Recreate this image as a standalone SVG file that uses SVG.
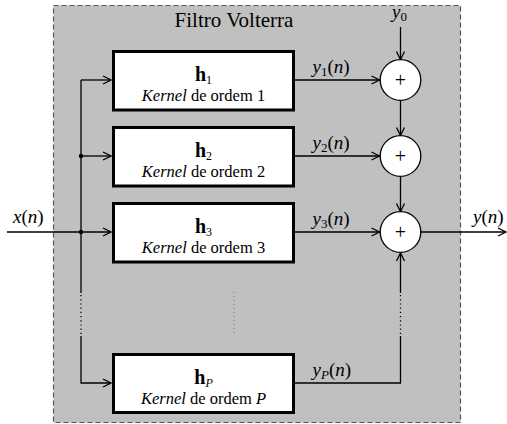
<svg xmlns="http://www.w3.org/2000/svg" width="507" height="424" viewBox="0 0 507 424" font-family="'Liberation Serif', 'DejaVu Serif', serif">
<style>
text{font-family:'Liberation Serif','DejaVu Serif',serif;fill:#000}
.box{fill:#fff;stroke:#000;stroke-width:3}
.sum{fill:#fff;stroke:#000;stroke-width:1.3}
.ln{fill:none;stroke:#000;stroke-width:1.3}
.dot{fill:none;stroke:#000;stroke-width:1.3;stroke-dasharray:1.2 3}
.k{font-size:16.5px;text-anchor:middle}
.h{font-size:20px;text-anchor:middle}
.m{font-size:19px}
.i{font-style:italic}
.sub{font-size:13px}
.hs{font-size:12px}
</style>
<defs>
<marker id="ar" viewBox="0 0 10 10" refX="9" refY="5" markerWidth="10" markerHeight="10" markerUnits="userSpaceOnUse" orient="auto">
<path d="M1,1 L9,5 L1,9" fill="none" stroke="#000" stroke-width="1.3"/>
</marker>
</defs>
<rect id="frame" x="53.5" y="5.5" width="407" height="417" fill="#c0c0c0" stroke="#555" stroke-width="1.2" stroke-dasharray="5 3"/>
<text x="234" y="27" font-size="21" text-anchor="middle">Filtro Volterra</text>

<g id="connectors">
<line class="ln" x1="7" y1="232" x2="111" y2="232" marker-end="url(#ar)"/>
<polyline class="ln" points="81,80 81,80 111,80" marker-end="url(#ar)"/>
<line class="ln" x1="81" y1="80" x2="81" y2="293"/>
<line class="dot" x1="81" y1="295" x2="81" y2="334"/>
<polyline class="ln" points="81,336 81,383 111,383" marker-end="url(#ar)"/>
<line class="ln" x1="81" y1="156" x2="111" y2="156" marker-end="url(#ar)"/>
<circle cx="81" cy="156" r="2.2"/>
<circle cx="81" cy="232" r="2.2"/>
<line class="ln" x1="295" y1="80" x2="379.5" y2="80" marker-end="url(#ar)"/>
<line class="ln" x1="295" y1="156" x2="379.5" y2="156" marker-end="url(#ar)"/>
<line class="ln" x1="295" y1="232" x2="379.5" y2="232" marker-end="url(#ar)"/>
<line class="ln" x1="400.5" y1="27" x2="400.5" y2="59.5" marker-end="url(#ar)"/>
<line class="ln" x1="400.5" y1="100.5" x2="400.5" y2="135.5" marker-end="url(#ar)"/>
<line class="ln" x1="400.5" y1="176.5" x2="400.5" y2="211.5" marker-end="url(#ar)"/>
<line class="ln" x1="421" y1="232" x2="506" y2="232" marker-end="url(#ar)"/>
<polyline class="ln" points="295,383 400.5,383 400.5,336"/>
<line class="dot" x1="400.5" y1="334" x2="400.5" y2="295"/>
<line class="ln" x1="400.5" y1="293" x2="400.5" y2="253" marker-end="url(#ar)"/>
<line x1="234" y1="292" x2="234" y2="334" stroke="#777" stroke-width="1" stroke-dasharray="1 3"/>
</g>

<g id="h1">
<rect class="box" x="113.5" y="51.5" width="180" height="58.5"/>
<text class="h" x="203.5" y="81"><tspan font-weight="bold">h</tspan><tspan class="hs" dy="3">1</tspan></text>
<text class="k" x="203.5" y="100.5"><tspan class="i">Kernel</tspan> de ordem 1</text>
</g>
<g id="h2">
<rect class="box" x="113.5" y="127.5" width="180" height="58.5"/>
<text class="h" x="203.5" y="157"><tspan font-weight="bold">h</tspan><tspan class="hs" dy="3">2</tspan></text>
<text class="k" x="203.5" y="176.5"><tspan class="i">Kernel</tspan> de ordem 2</text>
</g>
<g id="h3">
<rect class="box" x="113.5" y="203.5" width="180" height="58.5"/>
<text class="h" x="203.5" y="233"><tspan font-weight="bold">h</tspan><tspan class="hs" dy="3">3</tspan></text>
<text class="k" x="203.5" y="252.5"><tspan class="i">Kernel</tspan> de ordem 3</text>
</g>
<g id="hP">
<rect class="box" x="113.5" y="354.5" width="180" height="58"/>
<text class="h" x="203.5" y="384"><tspan font-weight="bold">h</tspan><tspan class="hs i" dy="3">P</tspan></text>
<text class="k" x="203.5" y="403.5"><tspan class="i">Kernel</tspan> de ordem <tspan class="i">P</tspan></text>
</g>

<g id="s1"><circle class="sum" cx="400.5" cy="80" r="20.3"/><text x="400.5" y="86.5" font-size="20" text-anchor="middle">+</text></g>
<g id="s2"><circle class="sum" cx="400.5" cy="156" r="20.3"/><text x="400.5" y="162.5" font-size="20" text-anchor="middle">+</text></g>
<g id="s3"><circle class="sum" cx="400.5" cy="232" r="20.3"/><text x="400.5" y="238.5" font-size="20" text-anchor="middle">+</text></g>

<g id="labels">
<text class="m" x="392" y="18"><tspan class="i">y</tspan><tspan class="sub" dy="3">0</tspan></text>
<text class="m" x="312.5" y="72.5"><tspan class="i">y</tspan><tspan class="sub" dy="3">1</tspan><tspan dy="-3">(</tspan><tspan class="i">n</tspan>)</text>
<text class="m" x="312.5" y="148.5"><tspan class="i">y</tspan><tspan class="sub" dy="3">2</tspan><tspan dy="-3">(</tspan><tspan class="i">n</tspan>)</text>
<text class="m" x="312.5" y="224.5"><tspan class="i">y</tspan><tspan class="sub" dy="3">3</tspan><tspan dy="-3">(</tspan><tspan class="i">n</tspan>)</text>
<text class="m" x="312.5" y="375.5"><tspan class="i">y</tspan><tspan class="sub i" dy="3">P</tspan><tspan dy="-3">(</tspan><tspan class="i">n</tspan>)</text>
<text class="m" x="13" y="222.5"><tspan class="i">x</tspan>(<tspan class="i">n</tspan>)</text>
<text class="m" x="473" y="223"><tspan class="i">y</tspan>(<tspan class="i">n</tspan>)</text>
</g>
</svg>
